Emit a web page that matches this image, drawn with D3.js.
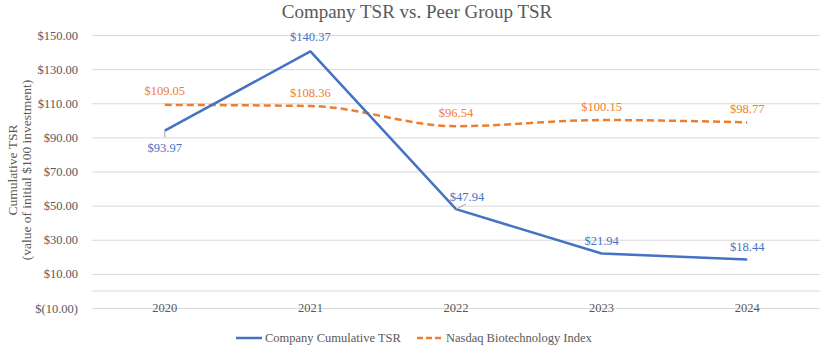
<!DOCTYPE html>
<meta charset="utf-8">
<style>
  body { margin: 0; background: #fff; }
  svg text { fill: #595959; font-family: "Liberation Serif", "Times New Roman", serif; }
</style>
<svg width="820" height="346"></svg>
<script src="https://d3js.org/d3.v7.min.js"></script>
<script>
  // ---- data ----
  const years = ["2020", "2021", "2022", "2023", "2024"];
  const companyTSR = [93.97, 140.37, 47.94, 21.94, 18.44];
  const nasdaqBio = [109.05, 108.36, 96.54, 100.15, 98.77];
  const yTicks = [-10, 10, 30, 50, 70, 90, 110, 130, 150];

  // ---- layout ----
  const svg = d3.select("svg");
  const plotLeft = 92, plotRight = 820, plotTop = 35, plotBottom = 308;

  const x = d3.scaleBand().domain(years).range([plotLeft, plotRight]);
  const y = d3.scaleLinear().domain([-10, 150]).range([plotBottom, plotTop]);
  const cx = d => x(d) + x.bandwidth() / 2;

  const fmt = v => v < 0 ? "$(" + Math.abs(v).toFixed(2) + ")" : "$" + v.toFixed(2);

  // gridlines + y labels
  const yAxis = d3.axisLeft(y).tickValues(yTicks).tickSize(-(plotRight - plotLeft)).tickFormat(fmt).tickPadding(14);
  const gy = svg.append("g").attr("transform", `translate(${plotLeft},0)`).call(yAxis);
  gy.select(".domain").remove();
  gy.selectAll(".tick line").attr("stroke", "#d9d9d9");
  gy.selectAll(".tick text").attr("font-size", 12.5);

  // zero axis line
  svg.append("line")
    .attr("x1", plotLeft).attr("x2", plotRight)
    .attr("y1", y(0)).attr("y2", y(0))
    .attr("stroke", "#d9d9d9");

  // x labels (sit on the $(10.00) gridline)
  svg.append("g").selectAll("text").data(years).enter().append("text")
    .attr("x", d => cx(d)).attr("y", y(-10) + 4)
    .attr("text-anchor", "middle").attr("font-size", 12.5)
    .text(d => d);

  // ---- lines ----
  const lineStraight = d3.line().x((d, i) => cx(years[i])).y(d => y(d));
  const lineSmooth = d3.line().x((d, i) => cx(years[i])).y(d => y(d)).curve(d3.curveMonotoneX);

  svg.append("path").datum(nasdaqBio)
    .attr("d", lineSmooth).attr("fill", "none")
    .attr("stroke", "#ED7D31").attr("stroke-width", 2.5)
    .attr("stroke-dasharray", "7,4");

  svg.append("path").datum(companyTSR)
    .attr("d", lineStraight).attr("fill", "none")
    .attr("stroke", "#4472C4").attr("stroke-width", 2.5)
    .attr("stroke-linejoin", "round");

  // ---- data labels ----
  const coLabelDy = [21, -10, -8, -9, -8];
  const coLabelDx = [0, 0, 11, 0, 0];
  svg.append("g").selectAll("text").data(companyTSR).enter().append("text")
    .attr("x", (d, i) => cx(years[i]) + coLabelDx[i])
    .attr("y", (d, i) => y(d) + coLabelDy[i])
    .attr("text-anchor", "middle").attr("font-size", 12.5)
    .style("fill", "#4472C4")
    .text(d => "$" + d.toFixed(2));

  // leader lines for 2020 and 2022
  svg.append("line")
    .attr("x1", cx("2020")).attr("x2", cx("2020"))
    .attr("y1", y(companyTSR[0])).attr("y2", y(companyTSR[0]) + 7)
    .attr("stroke", "#a6a6a6");
  svg.append("line")
    .attr("x1", cx("2022")).attr("x2", cx("2022") + 10)
    .attr("y1", y(companyTSR[2])).attr("y2", y(companyTSR[2]) - 5)
    .attr("stroke", "#a6a6a6");

  svg.append("g").selectAll("text").data(nasdaqBio).enter().append("text")
    .attr("x", (d, i) => cx(years[i]))
    .attr("y", d => y(d) - 9.5)
    .attr("text-anchor", "middle").attr("font-size", 12.5)
    .style("fill", "#ED7D31")
    .text(d => "$" + d.toFixed(2));

  // ---- title ----
  svg.append("text")
    .attr("x", 417).attr("y", 18)
    .attr("text-anchor", "middle").attr("font-size", 19)
    .text("Company TSR vs. Peer Group TSR");

  // ---- y-axis title ----
  const yt = svg.append("text")
    .attr("transform", "translate(17,170) rotate(-90)")
    .attr("text-anchor", "middle").attr("font-size", 13.5);
  yt.append("tspan").attr("x", 0).attr("dy", 0).text("Cumulative TSR");
  yt.append("tspan").attr("x", 0).attr("dy", 14).text("(value of initial $100 investment)");

  // ---- legend ----
  const lg = svg.append("g").attr("transform", "translate(0,338)");
  lg.append("line").attr("x1", 236).attr("x2", 262).attr("y1", 0).attr("y2", 0)
    .attr("stroke", "#4472C4").attr("stroke-width", 2.5);
  lg.append("text").attr("x", 265).attr("y", 4).attr("font-size", 12.5).text("Company Cumulative TSR");
  lg.append("line").attr("x1", 417).attr("x2", 442).attr("y1", 0).attr("y2", 0)
    .attr("stroke", "#ED7D31").attr("stroke-width", 2.5).attr("stroke-dasharray", "6,3");
  lg.append("text").attr("x", 446).attr("y", 4).attr("font-size", 12.5).text("Nasdaq Biotechnology Index");
</script>
